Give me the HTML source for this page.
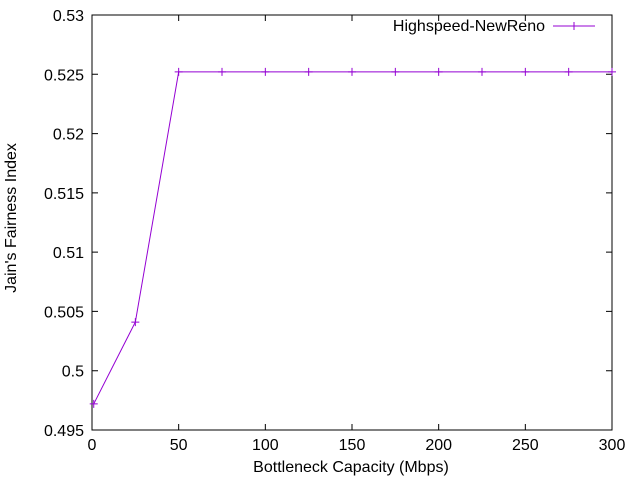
<!DOCTYPE html>
<html><head><meta charset="utf-8"><style>
body{margin:0;background:#fff;}
svg{display:block;font-family:"Liberation Sans",sans-serif;font-size:16px;}
</style></head><body>
<svg id="chart" width="640" height="480">
<rect x="92" y="15" width="520" height="415" fill="none" stroke="#000" stroke-width="1"/>
<g id="axes"></g>
<g id="series"></g>
<text x="351" y="472" text-anchor="middle">Bottleneck Capacity (Mbps)</text>
<text transform="translate(16,218) rotate(-90)" text-anchor="middle">Jain's Fairness Index</text>
<g>
<text x="545" y="31" text-anchor="end">Highspeed-NewReno</text>
<line x1="553" y1="26" x2="595" y2="26" stroke="#9400d3" stroke-width="1"/>
<path d="M570,26h8M574,22v8" stroke="#9400d3" stroke-width="1"/>
</g>
</svg>
<script>
const xValues=[1,25,50,75,100,125,150,175,200,225,250,275,300];
const yValues=[0.4972,0.5041,0.5252,0.5252,0.5252,0.5252,0.5252,0.5252,0.5252,0.5252,0.5252,0.5252,0.5252];
const xTicks=[0,50,100,150,200,250,300];
const yTicks=[0.495,0.5,0.505,0.51,0.515,0.52,0.525,0.53];
const yTickLabels=["0.495","0.5","0.505","0.51","0.515","0.52","0.525","0.53"];
const NS="http://www.w3.org/2000/svg";
const X0=92,X1=612,Y0=430,Y1=15;
function sx(v){return X0+(v-0)/(300-0)*(X1-X0);}
function sy(v){return Y0-(v-0.495)/(0.53-0.495)*(Y0-Y1);}
function mk(t,a){const e=document.createElementNS(NS,t);for(const k in a)e.setAttribute(k,a[k]);return e;}
const axes=document.getElementById('axes');
xTicks.forEach(t=>{
 const x=sx(t);
 const g=mk('g',{});
 
 
 g.appendChild(mk('path',{d:`M${x},${Y0}v-6M${x},${Y1}v6`,stroke:'#000'}));
 const tx=mk('text',{x:x,y:Y0+20,'text-anchor':'middle'});tx.textContent=t;g.appendChild(tx);
 axes.appendChild(g);
});
yTicks.forEach((t,i)=>{
 const y=sy(t);
 const g=mk('g',{});
 
 
 g.appendChild(mk('path',{d:`M${X0},${y}h6M${X1},${y}h-6`,stroke:'#000'}));
 const tx=mk('text',{x:X0-8,y:y+6,'text-anchor':'end'});tx.textContent=yTickLabels[i];g.appendChild(tx);
 axes.appendChild(g);
});
const ser=document.getElementById('series');
const line=mk('polyline',{points:xValues.map((v,i)=>sx(v)+','+sy(yValues[i])).join(' '),fill:'none',stroke:'#9400d3','stroke-width':1});


ser.appendChild(line);
xValues.forEach((v,i)=>{
 const x=sx(v),y=sy(yValues[i]);
 const p=mk('path',{d:`M${x-4},${y}h8M${x},${y-4}v8`,stroke:'#9400d3','stroke-width':1});
 
 
 ser.appendChild(p);
});
</script>
</body></html>
